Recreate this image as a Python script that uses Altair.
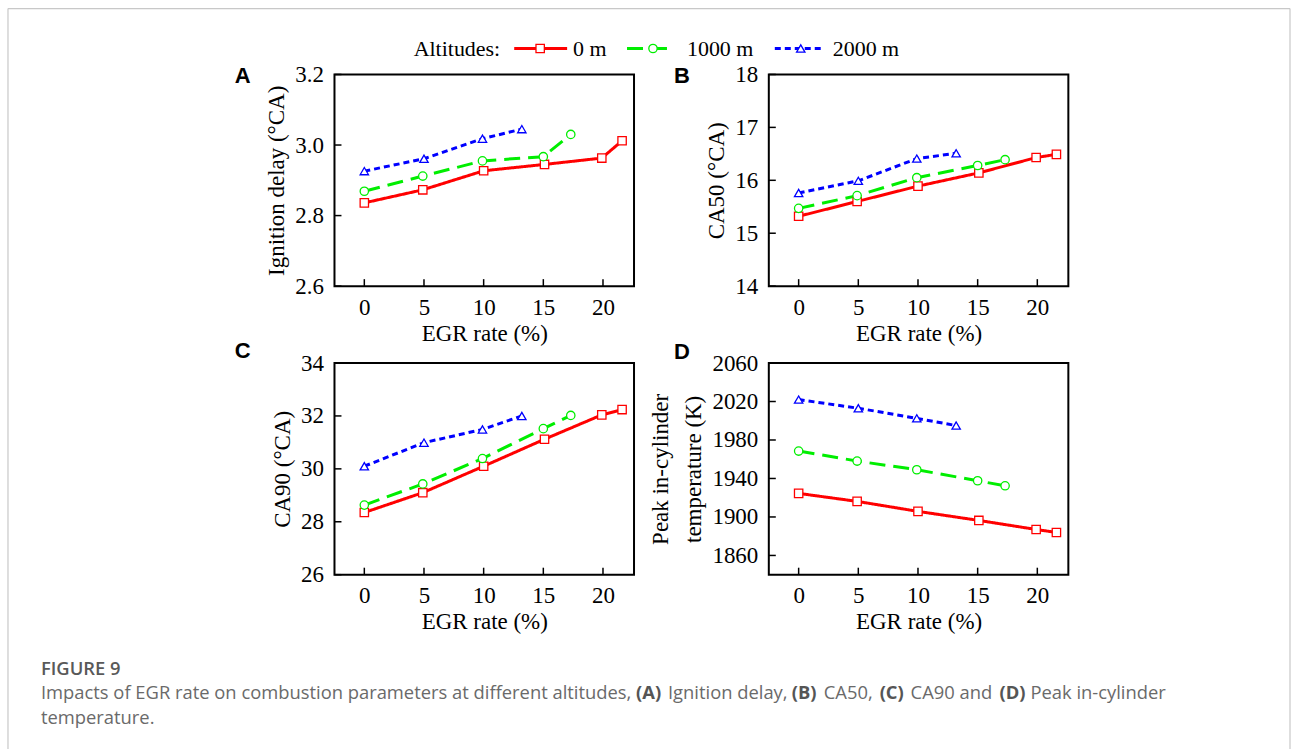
import altair as alt
import pandas as pd

# ---------------- data ----------------
series = ["0 m", "1000 m", "2000 m"]
colors = ["#FF0000", "#00EE00", "#0000FF"]
dashes = [[1, 0], [16, 8], [6, 4]]
shapes = ["square", "circle", "triangle-up"]

egr_0m = [0, 4.9, 10, 15.1, 19.9, 21.6]
egr_1000m = [0, 4.9, 9.9, 15, 17.3]
egr_2000m = [0, 5, 9.9, 13.2]

ign_0m = [2.836, 2.873, 2.927, 2.945, 2.963, 3.012]
ign_1000m = [2.869, 2.912, 2.955, 2.967, 3.030]
ign_2000m = [2.926, 2.961, 3.018, 3.045]

ca50_0m = [15.32, 15.60, 15.89, 16.14, 16.43, 16.49]
ca50_1000m = [15.47, 15.71, 16.05, 16.28, 16.39]
ca50_2000m = [15.76, 15.99, 16.41, 16.51]

ca90_0m = [28.35, 29.10, 30.10, 31.12, 32.04, 32.24]
ca90_1000m = [28.63, 29.43, 30.39, 31.52, 32.02]
ca90_2000m = [30.10, 30.99, 31.49, 32.00]

temp_0m = [1924.5, 1916.2, 1905.8, 1896.4, 1887.0, 1883.9]
temp_1000m = [1968.5, 1958.1, 1949.1, 1937.6, 1932.4]
temp_2000m = [2022, 2013, 2002.5, 1995]

x_ticks = [0, 5, 10, 15, 20]
ign_ticks = [2.6, 2.8, 3.0, 3.2]
ca50_ticks = [14, 15, 16, 17, 18]
ca90_ticks = [26, 28, 30, 32, 34]
temp_ticks = [1860, 1900, 1940, 1980, 2020, 2060]

caption_head = "FIGURE 9"
caption_segments = [
    "Impacts of EGR rate on combustion parameters at different altitudes,",
    "(A)", "Ignition delay,", "(B)", "CA50,", "(C)", "CA90 and", "(D)",
    "Peak in-cylinder",
]
caption_bold = [False, True, False, True, False, True, False, True, False]
caption_l2 = "temperature."

# ---------------- layout (px, relative to panel origins) ----------------
SERIF = "Liberation Serif"
W, H = 300, 212
LBL = 23
TTL = 23
CAP = 18.4
seg_x = [-294, 302, 334, 458, 490, 546, 577, 666, 697]   # caption pieces, from panel C left
leg_x0 = [180, 293, 441]
leg_x1 = [233, 336, 488]
leg_xm = [206, 319, 467]
leg_xt = [239, 353, 499]


def frame(xs_list, ys_list):
    rows = []
    for s, xs, ys in zip(series, xs_list, ys_list):
        for x, y in zip(xs, ys):
            rows.append({"Altitude": s, "EGR": x, "val": y})
    return pd.DataFrame(rows)


egr_all = [egr_0m, egr_1000m, egr_2000m]
one = pd.DataFrame({"k": [0]})


def legend_layers():
    out = []
    for i, s in enumerate(series):
        out.append(alt.Chart(one).mark_rule(strokeWidth=3, color=colors[i],
                                            strokeDash=dashes[i]).encode(
            x=alt.value(leg_x0[i]), x2=alt.value(leg_x1[i]), y=alt.value(-26)))
        out.append(alt.Chart(one).mark_point(shape=shapes[i], filled=False, fill="white",
                                             fillOpacity=1, size=70, strokeWidth=1.3,
                                             opacity=1, color=colors[i]).encode(
            x=alt.value(leg_xm[i]), y=alt.value(-26)))
        out.append(alt.Chart(one).mark_text(font=SERIF, fontSize=22, align="left",
                                            baseline="middle", color="black", text=s).encode(
            x=alt.value(leg_xt[i]), y=alt.value(-25)))
    out.append(alt.Chart(one).mark_text(font=SERIF, fontSize=22, align="right",
                                        baseline="middle", color="black",
                                        text="Altitudes:").encode(
        x=alt.value(166), y=alt.value(-25)))
    # light outer frame of the figure box
    fr = dict(color="#c8c8c8", strokeWidth=1.2)
    out.append(alt.Chart(one).mark_rule(**fr).encode(
        x=alt.value(-327), y=alt.value(-66), y2=alt.value(676)))
    out.append(alt.Chart(one).mark_rule(**fr).encode(
        x=alt.value(957), y=alt.value(-66), y2=alt.value(676)))
    out.append(alt.Chart(one).mark_rule(**fr).encode(
        x=alt.value(-327), x2=alt.value(957), y=alt.value(-66)))
    return out


def caption_layers():
    out = [alt.Chart(one).mark_text(font="Open Sans", fontSize=CAP, fontWeight=600,
                                    align="left", baseline="middle", color="#595959",
                                    text=caption_head).encode(
        x=alt.value(-294), y=alt.value(306))]
    for t, b, x in zip(caption_segments, caption_bold, seg_x):
        out.append(alt.Chart(one).mark_text(
            font="Open Sans", fontSize=CAP, fontWeight=700 if b else 400, align="left",
            baseline="middle", color="#555555" if b else "#6a6a6a", text=t).encode(
            x=alt.value(x), y=alt.value(330)))
    out.append(alt.Chart(one).mark_text(font="Open Sans", fontSize=CAP, align="left",
                                        baseline="middle", color="#6a6a6a",
                                        text=caption_l2).encode(
        x=alt.value(-294), y=alt.value(356)))
    return out


def panel(vals, ydomain, yticks, ytitle, fmt, letter, ldx, ldy, extra=()):
    df = frame(egr_all, vals)
    xs = alt.Scale(domain=[-2.5, 22.6], nice=False, zero=False)
    ys = alt.Scale(domain=ydomain, nice=False, zero=False)
    xaxis = alt.Axis(values=x_ticks, title="EGR rate (%)", ticks=False, domain=False,
                     grid=False, labelFont=SERIF, labelFontSize=LBL, labelColor="black",
                     labelPadding=10, titleFont=SERIF, titleFontSize=TTL,
                     titleFontWeight="normal", titleColor="black", titlePadding=3)
    yaxis = alt.Axis(values=yticks, format=fmt, title=ytitle, ticks=False, domain=False,
                     grid=False, labelFont=SERIF, labelFontSize=LBL, labelColor="black",
                     labelPadding=11, titleFont=SERIF, titleFontSize=TTL,
                     titleFontWeight="normal", titleColor="black", titlePadding=6,
                     titleLineHeight=33)
    X = alt.X("EGR:Q", scale=xs, axis=xaxis)
    Y = alt.Y("val:Q", scale=ys, axis=yaxis)
    color = alt.Color("Altitude:N", scale=alt.Scale(domain=series, range=colors), legend=None)
    dash = alt.StrokeDash("Altitude:N", scale=alt.Scale(domain=series, range=dashes), legend=None)
    shape = alt.Shape("Altitude:N", scale=alt.Scale(domain=series, range=shapes), legend=None)

    base = alt.Chart(df)
    lines = base.mark_line(strokeWidth=3).encode(x=X, y=Y, color=color, strokeDash=dash)
    pts = base.mark_point(filled=False, fill="white", fillOpacity=1, size=70,
                          strokeWidth=1.3, opacity=1).encode(x=X, y=Y, color=color, shape=shape)

    xt = alt.Chart(pd.DataFrame({"EGR": x_ticks})).mark_rule(
        color="black", strokeWidth=1.5).encode(
        x=alt.X("EGR:Q", scale=xs, axis=xaxis), y=alt.value(H), y2=alt.value(H - 7))
    yt = alt.Chart(pd.DataFrame({"val": yticks})).mark_rule(
        color="black", strokeWidth=1.5).encode(
        y=alt.Y("val:Q", scale=ys, axis=yaxis), x=alt.value(0), x2=alt.value(7))
    lab = alt.Chart(one).mark_text(
        font="Liberation Sans", fontWeight="bold", fontSize=22, align="center",
        baseline="middle", color="black", text=letter).encode(
        x=alt.value(ldx), y=alt.value(ldy))
    return alt.layer(lines, pts, xt, yt, lab, *extra).properties(width=W, height=H)


pA = panel([ign_0m, ign_1000m, ign_2000m], [2.6, 3.2], ign_ticks,
           "Ignition delay (°CA)", ".1f", "A", -92, 2, legend_layers())
pB = panel([ca50_0m, ca50_1000m, ca50_2000m], [14, 18], ca50_ticks,
           "CA50 (°CA)", "d", "B", -87, 2)
pC = panel([ca90_0m, ca90_1000m, ca90_2000m], [26, 34], ca90_ticks,
           "CA90 (°CA)", "d", "C", -92, -12, caption_layers())
pD = panel([temp_0m, temp_1000m, temp_2000m], [1840, 2060], temp_ticks,
           ["Peak in-cylinder", "temperature (K)"], "d", "D", -87, -11)

chart = alt.concat(pA, pB, pC, pD, columns=2,
                   spacing={"row": 77, "column": 135}, bounds="flush").properties(
    padding={"left": 6, "top": 6, "right": 1, "bottom": 0},
    background="white",
).configure_view(stroke="black", strokeWidth=2)

chart.save("out.html", embed_options={"renderer": "svg", "actions": False})
